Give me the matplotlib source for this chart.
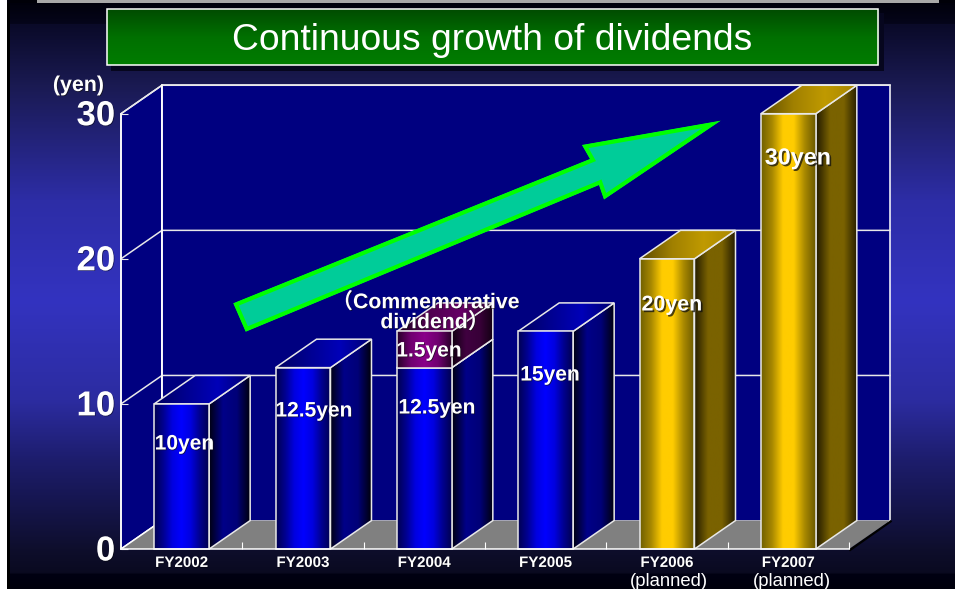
import numpy as np
import matplotlib
matplotlib.use("Agg")
import matplotlib.pyplot as plt
import matplotlib.patheffects as pe
from matplotlib.colors import LinearSegmentedColormap as LSC
from matplotlib.patches import Polygon, Rectangle
from matplotlib.transforms import ScaledTranslation

plt.rcParams['font.family'] = ['Liberation Sans', 'Noto Sans CJK JP', 'DejaVu Sans']

# ---- data ----
categories = ['FY2002', 'FY2003', 'FY2004', 'FY2005', 'FY2006', 'FY2007']
sublabels = ['', '', '', '', '(planned)', '(planned)']
base_values = [10, 12.5, 12.5, 15, 0, 0]
planned_values = [0, 0, 0, 0, 20, 30]
commemorative_values = [0, 0, 2.5, 0, 0, 0]   # height as drawn in the picture
bar_labels = ['10yen', '12.5yen', '12.5yen', '15yen', '20yen', '30yen']
extra_label = '1.5yen'
y_ticks = [0, 10, 20, 30]
title = 'Continuous growth of dividends'

W, H = 955, 589
fig = plt.figure(figsize=(W / 100, H / 100), dpi=100, facecolor='white')

# pixel-space layer for the slide decoration
px = fig.add_axes([0, 0, 1, 1], zorder=0)
px.set_xlim(0, W)
px.set_ylim(H, 0)
px.axis('off')

stops_y = [0, 23, 24, 85, 200, 300, 400, 460, 500, 549, 572, 574, 589]
stops_c = ['#00000a', '#05051a', '#0a0a28', '#1a1a52', '#2d2da6', '#3333c0', '#2c2ca0',
           '#1d1d6c', '#161650', '#0e0e2c', '#0a0a20', '#010112', '#00000c']
rgb = np.array([matplotlib.colors.to_rgb(c) for c in stops_c])
rows = np.arange(H)
grad = np.stack([np.interp(rows, stops_y, rgb[:, k]) for k in range(3)], axis=1)[:, None, :]
px.imshow(grad, extent=(10, W, H, 0), aspect='auto', interpolation='bilinear', zorder=0)
px.add_patch(Rectangle((7, 0), 3, H, fc='black', ec='none', zorder=1))
px.add_patch(Rectangle((7, 0), W - 7, 3, fc='#000008', ec='none', zorder=1))
px.add_patch(Rectangle((37, 0), 902, 3, fc='#a8a8a8', ec='none', zorder=1))
# title box
px.add_patch(Rectangle((111, 13), 773, 58, fc='#06061e', ec='none', zorder=1))
green = LSC.from_list('g', ['#004c00', '#007000', '#007c00'])
px.imshow(np.linspace(0, 1, 64)[:, None], cmap=green, extent=(107, 878, 65, 9), aspect='auto', zorder=2)
px.add_patch(Rectangle((107, 9), 771, 56, fc='none', ec='white', lw=1.1, zorder=3))
px.text(492, 40.5, title, color='white', fontsize=26.8, ha='center', va='center', zorder=4)
px.set_xlim(0, W)
px.set_ylim(H, 0)

# ---- chart axes: front plane of the 3-D box ----
L, R, B, T = 121, 849, 549, 113.7
ax = fig.add_axes([L / W, (H - B) / H, (R - L) / W, (B - T) / H], zorder=1)
ax.patch.set_visible(False)
ax.set_xlim(0, 6)
ax.set_ylim(0, 30)
ax.autoscale(False)
DX, DY = 0.338, 1.96
BW = 0.453
EDGE = '#e8e8e8'
LW = 1.1


def poly(points, fc='none', ec='none', lw=LW, z=2):
    p = Polygon(points, closed=True, fc=fc, ec=ec, lw=lw, zorder=z, clip_on=False, joinstyle='miter')
    ax.add_patch(p)
    return p


def gface(points, colors, z):
    pts = np.array(points, float)
    cmap = LSC.from_list('f', colors)
    clip = Polygon(pts, closed=True, transform=ax.transData)
    im = ax.imshow(np.linspace(0, 1, 128)[None, :], cmap=cmap, aspect='auto', zorder=z,
                   extent=(pts[:, 0].min(), pts[:, 0].max(), pts[:, 1].min(), pts[:, 1].max()))
    im.set_clip_path(clip)
    im.set_clip_box(fig.bbox)
    poly(pts, ec=EDGE, z=z + 0.01)


BLUE = dict(front=['#000050', '#000090', '#0000e0', '#0000ff', '#0000e0', '#000090', '#000050'],
            side=['#000010', '#000088', '#000078', '#000008'],
            top=['#000060', '#000090', '#0000b8', '#000070'])
GOLD = dict(front=['#706000', '#a88800', '#ffcc00', '#ffcc00', '#a88800', '#6a5800'],
            side=['#221a00', '#7a6200', '#7a6200', '#221a00'],
            top=['#5c4a00', '#a08000', '#c09a00', '#a88600'])
PURP = dict(front=['#280028', '#700070', '#8a008a', '#700070', '#280028'],
            side=['#100010', '#400040', '#380038', '#100010'],
            top=['#200020', '#500050', '#660066', '#300030'])


def box(x, y0, y1, st, z):
    l, r = x - BW / 2, x + BW / 2
    gface([(r, y0), (r + DX, y0 + DY), (r + DX, y1 + DY), (r, y1)], st['side'], z)
    gface([(l, y1), (r, y1), (r + DX, y1 + DY), (l + DX, y1 + DY)], st['top'], z + 0.1)
    gface([(l, y0), (r, y0), (r, y1), (l, y1)], st['front'], z + 0.2)


# walls and floor
poly([(0, 0), (DX, DY), (DX, 30 + DY), (0, 30)], fc='#000080', ec='white', z=1)
poly([(DX, DY), (6 + DX, DY), (6 + DX, 30 + DY), (DX, 30 + DY)], fc='#000080', ec='white', z=1)
poly([(0, 0), (6, 0), (6 + DX, DY), (DX, DY)], fc='#808080', ec='none', z=1.1)
ax.plot([6.01, 6 + DX + 0.005], [-0.06, DY - 0.06], color='black', lw=1.6, zorder=1.05, clip_on=False)
ax.plot([0, DX], [0, DY], color='white', lw=LW, zorder=1.2, clip_on=False)
for v in y_ticks[1:]:
    ax.plot([0, DX, 6 + DX], [v, v + DY, v + DY], color=EDGE, lw=LW, zorder=1.2, clip_on=False)
ax.plot([DX, DX], [DY, 30 + DY], color='white', lw=LW, zorder=1.2, clip_on=False)

# bars
centers = np.arange(len(categories)) + 0.5
for i, c in enumerate(centers):
    z = 2 + i
    if base_values[i]:
        box(c, 0, base_values[i], BLUE, z)
    if planned_values[i]:
        box(c, 0, planned_values[i], GOLD, z)
    if commemorative_values[i]:
        box(c, base_values[i], base_values[i] + commemorative_values[i], PURP, z + 0.5)

# axes furniture
for s in ('top', 'right'):
    ax.spines[s].set_visible(False)
for s in ('left', 'bottom'):
    ax.spines[s].set_color('white')
    ax.spines[s].set_linewidth(1.1)
    ax.spines[s].set_zorder(9)
ax.set_yticks(y_ticks)
ax.set_yticklabels([str(v) for v in y_ticks], fontsize=25, fontweight='bold', color='white')
ax.tick_params(axis='y', direction='in', length=5, width=0.8, color=EDGE, pad=4.2)
ax.set_xticks(centers)
ax.set_xticklabels(categories, fontsize=10.9, fontweight='bold', color='white')
ax.tick_params(axis='x', which='major', length=0, pad=5)
ax.set_xticks(np.arange(1, 7), minor=True)
ax.tick_params(axis='x', which='minor', direction='in', length=5, width=0.8, color='white')
for lab in ax.get_xticklabels() + ax.get_yticklabels():
    lab.set_path_effects([pe.SimplePatchShadow(offset=(0.5, -0.5), shadow_rgbFace='black', alpha=0.5), pe.Normal()])
up = ScaledTranslation(0, 1.5 / 100, fig.dpi_scale_trans)
for lab in ax.get_yticklabels():
    lab.set_transform(lab.get_transform() + up)

# arrow (annotation drawn in slide pixels, stroked inside its own outline)
arrow = Polygon([(233.3, 303.3), (590, 159), (582, 145), (720.7, 120.7), (604, 199.5), (599, 185), (245.7, 331.7)],
                closed=True, fc='#00cc99', ec='#00ff00', lw=6, zorder=1.5,
                transform=px.transData, clip_on=True, joinstyle='miter')
ax.add_patch(arrow)
arrow.set_clip_path(arrow)
arrow.set_clip_box(fig.bbox)


def note(x, y, s, size=15.1, weight='bold', shadow=0.5, z=20):
    t = ax.text(x, y, s, transform=px.transData, color='white', fontsize=size, fontweight=weight,
                ha='center', va='center', zorder=z, clip_on=False)
    if shadow:
        t.set_path_effects([pe.SimplePatchShadow(offset=(shadow, -shadow), shadow_rgbFace='#101010', alpha=0.75),
                            pe.Normal()])
    return t


label_px = [(184.5, 444), (314, 411), (437, 408), (550, 375), (672, 305), (798, 158)]
label_size = [15.1, 15.1, 15.1, 15.1, 15.4, 16.8]
label_shadow = [0.5, 0.5, 0.5, 0.5, 1.2, 1.2]
for (x, y), s, fs, sh in zip(label_px, bar_labels, label_size, label_shadow):
    note(x, y, s, size=fs, shadow=sh)
note(429, 351, extra_label)
note(426, 302, '（Commemorative', size=15.3)
note(435, 322, 'dividend）', size=15.3)
note(78.5, 85.5, '(yen)', size=15.4)
for x, y, s in [(668.7, 582, sublabels[4]), (791.7, 581.5, sublabels[5])]:
    note(x, y, s, size=13.3, weight='normal', shadow=0)

fig.savefig('out.png', dpi=100, facecolor=fig.get_facecolor())
